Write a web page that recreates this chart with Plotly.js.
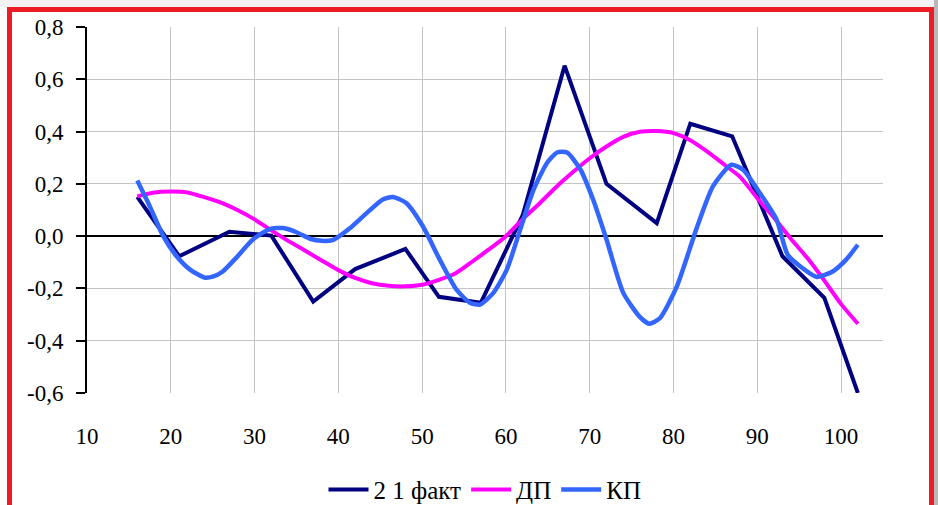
<!DOCTYPE html>
<html>
<head>
<meta charset="utf-8">
<script src="https://cdn.plot.ly/plotly-3.0.1.min.js"></script>
<style>
  html, body { margin: 0; padding: 0; background: #ffffff; }
  #wrap { position: relative; width: 938px; height: 505px; overflow: hidden; }
  #chart { position: absolute; left: 0; top: 0; width: 938px; height: 505px; }
  #topband { position: absolute; left: 0; top: 0; width: 938px; height: 7px; background: #f3f3f3; pointer-events: none; }
  #rightband { position: absolute; left: 934px; top: 0; width: 4px; height: 505px; background: #b8b8b8; pointer-events: none; }
  #frame { position: absolute; left: 7px; top: 7px; width: 927px; height: 530px; border: 5px solid #ee1c24; box-sizing: border-box; pointer-events: none; }
</style>
</head>
<body>
<div id="wrap">
  <div id="chart"></div>
  <div id="topband"></div>
  <div id="rightband"></div>
  <div id="frame"></div>
</div>
<script>
// ---- data ----
const seriesNames = ['2 1 факт', 'ДП', 'КП'];

const faktX = [16, 21, 27, 32, 37, 42, 48, 52, 57, 62, 67, 72, 78, 82, 87, 93, 98, 102];
const faktY = [0.15, -0.077, 0.017, 0.002, -0.25, -0.126, -0.049, -0.232, -0.255, 0.08, 0.652, 0.2, 0.05, 0.43, 0.382, -0.077, -0.236, -0.6];

const dpX = [16, 18, 20, 22, 24, 26, 28, 30, 32, 34, 36, 38, 40, 42, 44, 46, 48, 50, 52, 54, 56, 58, 60, 62, 64, 66, 68, 70, 72, 74, 76, 78, 80, 82, 84, 86, 88, 90, 92, 94, 96, 98, 100, 102];
const dpY = [0.152, 0.167, 0.171, 0.167, 0.149, 0.128, 0.099, 0.064, 0.022, -0.018, -0.055, -0.093, -0.13, -0.16, -0.18, -0.19, -0.192, -0.186, -0.167, -0.142, -0.097, -0.05, 0.0, 0.065, 0.125, 0.188, 0.245, 0.298, 0.343, 0.38, 0.399, 0.402, 0.394, 0.367, 0.324, 0.275, 0.225, 0.145, 0.07, -0.01, -0.085, -0.17, -0.26, -0.335];

const kpX = [16, 17.5, 19.1, 20.7, 22.3, 24, 25, 26.2, 27.8, 29.8, 31.8, 33.4, 35, 36.6, 38, 39.4, 41.4, 43.4, 45.3, 46.5, 48.1, 50.1, 52.1, 54.1, 55.7, 56.9, 58.5, 60.1, 61.7, 63.3, 64.9, 66.1, 67.3, 68.9, 70.4, 72, 74, 76, 77.1, 78.4, 80.4, 82.7, 84.7, 86.9, 88.3, 90.3, 92.3, 93.6, 95.1, 97.1, 99, 100.6, 102];
const kpY = [0.213, 0.114, 0.0, -0.077, -0.128, -0.158, -0.155, -0.135, -0.083, -0.013, 0.027, 0.031, 0.015, -0.01, -0.018, -0.014, 0.031, 0.089, 0.14, 0.15, 0.127, 0.037, -0.09, -0.205, -0.255, -0.262, -0.217, -0.128, 0.025, 0.178, 0.28, 0.32, 0.32, 0.254, 0.14, -0.013, -0.217, -0.31, -0.335, -0.313, -0.192, 0.025, 0.19, 0.273, 0.254, 0.165, 0.063, -0.07, -0.115, -0.156, -0.135, -0.09, -0.033];

const xTickVals = [10, 20, 30, 40, 50, 60, 70, 80, 90, 100];
const xTickText = ['10', '20', '30', '40', '50', '60', '70', '80', '90', '100'];
const yTickVals = [-0.6, -0.4, -0.2, 0, 0.2, 0.4, 0.6, 0.8];
const yTickText = ['-0,6', '-0,4', '-0,2', '0,0', '0,2', '0,4', '0,6', '0,8'];

const FONT = 'Liberation Serif';

const traces = [
  { x: faktX, y: faktY, name: seriesNames[0], type: 'scatter', mode: 'lines',
    line: { color: '#000080', width: 4 } },
  { x: dpX, y: dpY, name: seriesNames[1], type: 'scatter', mode: 'lines',
    line: { color: '#ff00ff', width: 4, shape: 'spline', smoothing: 0.6 } },
  { x: kpX, y: kpY, name: seriesNames[2], type: 'scatter', mode: 'lines',
    line: { color: '#3366ff', width: 4.5, shape: 'spline', smoothing: 0.6 } }
];

const layout = {
  width: 938, height: 505,
  margin: { l: 87, r: 55, t: 27, b: 112, autoexpand: false },
  paper_bgcolor: '#ffffff', plot_bgcolor: '#ffffff',
  font: { family: FONT, size: 23, color: '#000000' },
  showlegend: true,
  legend: { orientation: 'h', x: 0.5, xanchor: 'center', yref: 'container', y: 0.03, yanchor: 'middle',
            font: { family: FONT, size: 25, color: '#000' }, itemwidth: 40, tracegroupgap: 0 },
  xaxis: {
    range: [10, 105], tickvals: xTickVals, ticktext: xTickText,
    showgrid: true, gridcolor: '#c4c4c4', gridwidth: 1,
    zeroline: false, showline: false, ticks: '', ticklabelstandoff: 27,
    automargin: false,
    tickfont: { family: FONT, size: 23, color: '#000' }
  },
  xaxis2: {
    overlaying: 'x', anchor: 'free', position: 0.4286, side: 'bottom',
    range: [10, 105], tickvals: [20, 30, 40, 50, 60, 70, 80, 90, 100],
    showticklabels: false, showgrid: false, zeroline: false, showline: false,
    ticks: 'outside', ticklen: 8, tickwidth: 2, tickcolor: '#000'
  },
  yaxis: {
    range: [-0.6, 0.8], tickvals: yTickVals, ticktext: yTickText,
    showgrid: true, gridcolor: '#c4c4c4', gridwidth: 1,
    zeroline: true, zerolinecolor: '#000', zerolinewidth: 2,
    showline: true, linecolor: '#000', linewidth: 2,
    ticks: 'outside', ticklen: 9, tickwidth: 2, tickcolor: '#000',
    ticklabelstandoff: 8, automargin: false,
    tickfont: { family: FONT, size: 23, color: '#000' }
  }
};

Plotly.newPlot('chart', traces, layout, { displayModeBar: false, staticPlot: true });
</script>
</body>
</html>
